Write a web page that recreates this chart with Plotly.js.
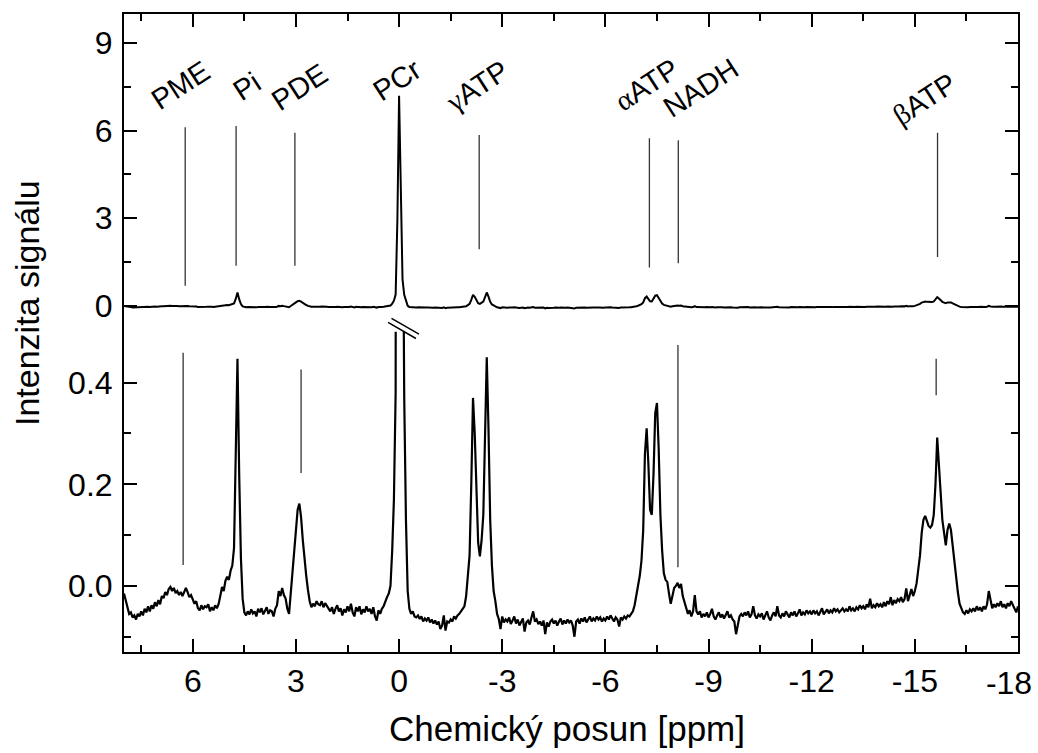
<!DOCTYPE html>
<html>
<head>
<meta charset="utf-8">
<script src="https://cdn.plot.ly/plotly-3.0.1.min.js"></script>
<style>
html,body{margin:0;padding:0;background:#fff;}
#chart{width:1038px;height:753px;}
</style>
</head>
<body>
<div id="chart"></div>
<script>
// Spectrum sampled from 8 ppm down to -18 ppm in steps of 0.05 ppm
const ppmStart = 8;
const ppmStep = -0.05;
const intensity = [
// 8.00 .. 7.05
-0.015,-0.03,-0.045,-0.055,-0.052,-0.062,-0.058,-0.066,-0.055,-0.06,-0.05,-0.058,-0.045,-0.052,-0.04,-0.05,-0.038,-0.045,-0.032,-0.04,
// 7.00 .. 6.05
-0.028,-0.036,-0.02,-0.024,-0.012,-0.018,-0.006,-0.002,-0.01,-0.004,-0.014,-0.01,-0.018,-0.012,-0.02,-0.01,-0.004,-0.012,-0.022,-0.018,
// 6.00 .. 5.05
-0.028,-0.035,-0.03,-0.044,-0.048,-0.038,-0.046,-0.04,-0.042,-0.036,-0.05,-0.042,-0.048,-0.038,-0.044,-0.036,-0.02,-0.002,-0.01,0.01,
// 5.00 .. 4.05
0.018,0.012,0.03,0.04,0.075,0.23,0.447,0.22,0.055,-0.025,-0.052,-0.058,-0.05,-0.056,-0.046,-0.054,-0.05,-0.06,-0.045,-0.052,
// 4.00 .. 3.05
-0.044,-0.056,-0.05,-0.042,-0.055,-0.048,-0.05,-0.06,-0.045,-0.038,-0.01,-0.02,-0.004,-0.018,-0.025,-0.045,-0.055,-0.012,0.02,0.055,
// 3.00 .. 2.05
0.11,0.15,0.162,0.135,0.09,0.05,0.02,-0.008,-0.03,-0.042,-0.035,-0.04,-0.03,-0.036,-0.038,-0.03,-0.042,-0.034,-0.04,-0.046,
// 2.00 .. 1.05
-0.05,-0.042,-0.055,-0.045,-0.038,-0.05,-0.044,-0.058,-0.046,-0.052,-0.04,-0.05,-0.035,-0.052,-0.06,-0.042,-0.05,-0.04,-0.056,-0.046,
// 1.00 .. 0.05
-0.052,-0.04,-0.05,-0.045,-0.055,-0.042,-0.06,-0.068,-0.048,-0.055,-0.045,-0.04,-0.03,-0.022,-0.015,0.0,0.07,0.17,0.38,2.9,
// 0.00 .. -0.95
7.2,3.3,0.9,0.37,0.13,-0.01,-0.045,-0.055,-0.05,-0.06,-0.062,-0.058,-0.065,-0.06,-0.07,-0.064,-0.068,-0.062,-0.072,-0.066,
// -1.00 .. -1.95
-0.074,-0.068,-0.076,-0.07,-0.085,-0.078,-0.058,-0.088,-0.07,-0.072,-0.066,-0.07,-0.06,-0.064,-0.058,-0.055,-0.05,-0.046,-0.04,-0.02,
// -2.00 .. -2.95
0.015,0.06,0.2,0.37,0.30,0.18,0.085,0.058,0.09,0.14,0.29,0.45,0.31,0.13,0.04,-0.01,-0.03,-0.055,-0.065,-0.085,
// -3.00 .. -3.95
-0.06,-0.072,-0.066,-0.07,-0.062,-0.075,-0.068,-0.06,-0.074,-0.066,-0.078,-0.07,-0.064,-0.09,-0.072,-0.068,-0.076,-0.062,-0.05,-0.07,
// -4.00 .. -4.95
-0.066,-0.075,-0.07,-0.078,-0.068,-0.095,-0.072,-0.08,-0.07,-0.066,-0.074,-0.068,-0.078,-0.07,-0.064,-0.076,-0.068,-0.074,-0.066,-0.072,
// -5.00 .. -5.95
-0.068,-0.078,-0.1,-0.07,-0.066,-0.074,-0.064,-0.07,-0.062,-0.072,-0.066,-0.06,-0.07,-0.064,-0.068,-0.06,-0.066,-0.062,-0.07,-0.064,
// -6.00 .. -6.95
-0.068,-0.06,-0.066,-0.058,-0.064,-0.07,-0.062,-0.066,-0.08,-0.062,-0.066,-0.06,-0.064,-0.058,-0.06,-0.055,-0.05,-0.038,-0.02,-0.005,
// -7.00 .. -7.95
0.02,0.05,0.11,0.26,0.31,0.24,0.15,0.14,0.22,0.34,0.36,0.27,0.14,0.07,0.025,0.012,0.008,-0.015,-0.035,-0.02,
// -8.00 .. -8.95
-0.004,0.0,0.006,-0.004,0.004,-0.02,-0.032,-0.045,-0.055,-0.048,-0.06,-0.05,-0.018,-0.05,-0.056,-0.05,-0.062,-0.055,-0.06,-0.052,
// -9.00 .. -9.95
-0.062,-0.055,-0.045,-0.06,-0.066,-0.058,-0.052,-0.062,-0.056,-0.064,-0.058,-0.05,-0.062,-0.058,-0.066,-0.07,-0.095,-0.075,-0.06,-0.055,
// -10.00 .. -10.95
-0.06,-0.052,-0.058,-0.05,-0.062,-0.056,-0.04,-0.058,-0.064,-0.056,-0.06,-0.054,-0.066,-0.058,-0.05,-0.062,-0.068,-0.058,-0.052,-0.06,
// -11.00 .. -11.95
-0.04,-0.058,-0.062,-0.054,-0.06,-0.05,-0.056,-0.062,-0.052,-0.058,-0.05,-0.06,-0.054,-0.046,-0.058,-0.052,-0.056,-0.048,-0.054,-0.05,
// -12.00 .. -12.95
-0.056,-0.048,-0.054,-0.05,-0.058,-0.05,-0.044,-0.056,-0.05,-0.046,-0.054,-0.048,-0.052,-0.044,-0.05,-0.046,-0.052,-0.048,-0.044,-0.05,
// -13.00 .. -13.95
-0.046,-0.05,-0.04,-0.048,-0.044,-0.05,-0.042,-0.046,-0.038,-0.044,-0.04,-0.046,-0.036,-0.042,-0.025,-0.044,-0.038,-0.042,-0.034,-0.04,
// -14.00 .. -14.95
-0.036,-0.042,-0.032,-0.04,-0.03,-0.036,-0.022,-0.038,-0.028,-0.034,-0.026,-0.03,-0.022,-0.032,-0.026,-0.005,-0.03,-0.018,-0.006,-0.02,
// -15.00 .. -15.95
-0.01,0.005,0.03,0.06,0.105,0.13,0.138,0.128,0.118,0.115,0.12,0.14,0.2,0.292,0.24,0.17,0.13,0.105,0.08,0.11,
// -16.00 .. -16.95
0.123,0.11,0.08,0.05,0.01,-0.012,-0.035,-0.045,-0.052,-0.055,-0.048,-0.054,-0.046,-0.05,-0.044,-0.05,-0.04,-0.048,-0.042,-0.05,
// -17.00 .. -17.95
-0.04,-0.046,-0.036,-0.01,-0.03,-0.044,-0.036,-0.042,-0.034,-0.04,-0.03,-0.042,-0.036,-0.044,-0.034,-0.04,-0.03,-0.038,-0.044,-0.052,
// -18.00
-0.04
];

// Axis ticks (the last label, at the right edge, is drawn by a helper axis so it can be nudged inwards)
const xTickVals = [6, 3, 0, -3, -6, -9, -12, -15, -18];
const xTickText = ['6', '3', '0', '-3', '-6', '-9', '-12', '-15', ''];
const xEdgeTickVals = [-18];
const xEdgeTickText = ['-18'];
const upperTickVals = [0, 3, 6, 9];
const upperTickText = ['0', '3', '6', '9'];
const lowerTickVals = [0, 0.2, 0.4];
const lowerTickText = ['0.0', '0.2', '0.4'];

// Peak assignments
const peakNames = ['PME', 'Pi', 'PDE', 'PCr', '<span style="font-family:Liberation Serif">γ</span>ATP', '<span style="font-family:Liberation Serif">α</span>ATP', 'NADH', '<span style="font-family:Liberation Serif">β</span>ATP'];
const labelPpm = [6.35, 4.41, 2.89, 0.06, -2.28, -7.19, -8.77, -15.28];
const labelHeight = [7.57, 7.53, 7.48, 7.74, 7.53, 7.57, 7.45, 7.08];
// marker lines in the upper (full-scale) panel
const upperLinePpm  = [6.22, 4.74, 3.03, null, -2.33, -7.28, -8.12, -15.66];
const upperLineFrom = [0.68, 1.37, 1.37, null, 1.93, 1.31, 1.45, 1.67];
const upperLineTo   = [6.12, 6.16, 5.93, null, 5.85, 5.74, 5.67, 5.93];
// marker lines in the lower (expanded) panel
const lowerLinePpm  = [6.28, null, 2.85, null, null, null, -8.11, -15.62];
const lowerLineFrom = [0.041, null, 0.222, null, null, null, 0.037, 0.375];
const lowerLineTo   = [0.459, null, 0.426, null, null, null, 0.474, 0.447];

function segments(ppm, from, to) {
  const xs = [], ys = [];
  ppm.forEach((p, i) => {
    if (p === null) return;
    xs.push(p, p, null);
    ys.push(from[i], to[i], null);
  });
  return {xs, ys};
}

const up = segments(upperLinePpm, upperLineFrom, upperLineTo);
const lo = segments(lowerLinePpm, lowerLineFrom, lowerLineTo);

const FONT = 'Liberation Sans, Arial, Helvetica, sans-serif';

const traces = [
  {type: 'scatter', mode: 'lines', x0: ppmStart, dx: ppmStep, y: intensity,
   xaxis: 'x', yaxis: 'y', line: {color: 'black', width: 2.2}, hoverinfo: 'skip'},
  {type: 'scatter', mode: 'lines', x0: ppmStart, dx: ppmStep, y: intensity,
   xaxis: 'x2', yaxis: 'y2', line: {color: 'black', width: 2}, hoverinfo: 'skip'},
  {type: 'scatter', mode: 'lines', x: up.xs, y: up.ys, xaxis: 'x2', yaxis: 'y2',
   line: {color: '#333', width: 1.3}, hoverinfo: 'skip', connectgaps: false},
  {type: 'scatter', mode: 'lines', x: lo.xs, y: lo.ys, xaxis: 'x3', yaxis: 'y',
   line: {color: '#333', width: 1.3}, hoverinfo: 'skip', connectgaps: false}
];

const axisCommon = {
  showline: true, linecolor: 'black', linewidth: 2,
  ticks: 'inside', ticklen: 13, tickwidth: 2, tickcolor: 'black',
  showgrid: false, zeroline: false,
  tickfont: {family: FONT, size: 32, color: 'black'}
};

const split = 0.5018;

const annotations = peakNames.map((n, i) => ({
  text: n, x: labelPpm[i], y: labelHeight[i], xref: 'x2', yref: 'y2',
  showarrow: false, textangle: -33, xanchor: 'center', yanchor: 'middle',
  font: {family: FONT, size: 29, color: 'black'}
}));
annotations.push({
  text: 'Intenzita signálu', xref: 'paper', yref: 'paper', x: -0.1085, y: 0.547,
  showarrow: false, textangle: -90, xanchor: 'center', yanchor: 'middle',
  font: {family: FONT, size: 34, color: 'black'}
});
annotations.push({
  text: 'Chemický posun [ppm]', xref: 'paper', yref: 'paper', x: 0.496, y: -0.12,
  showarrow: false, xanchor: 'center', yanchor: 'middle',
  font: {family: FONT, size: 35, color: 'black'}
});

const minorX = {tick0: 0, dtick: 1.5, ticks: 'inside', ticklen: 7, tickwidth: 2, tickcolor: 'black'};

const layout = {
  width: 1038, height: 753,
  margin: {l: 124, r: 20, t: 14, b: 101},
  paper_bgcolor: 'white', plot_bgcolor: 'white',
  showlegend: false,
  font: {family: FONT, color: 'black'},
  xaxis: Object.assign({}, axisCommon, {
    domain: [0, 1], anchor: 'y', range: [8, -18], autorange: false,
    tickmode: 'array', tickvals: xTickVals, ticktext: xTickText,
    minor: minorX
  }),
  xaxis3: {
    domain: [0, 1], anchor: 'y', overlaying: 'x', matches: 'x', side: 'bottom',
    range: [8, -18], autorange: false,
    showline: false, showgrid: false, zeroline: false, ticks: '',
    tickmode: 'array', tickvals: xEdgeTickVals, ticktext: xEdgeTickText,
    ticklabelshift: 9, ticklabelstandoff: 9, ticklabeloverflow: 'allow',
    tickfont: {family: FONT, size: 32, color: 'black'}
  },
  xaxis2: Object.assign({}, axisCommon, {
    domain: [0, 1], anchor: 'y2', range: [8, -18], autorange: false, matches: 'x',
    side: 'top', showticklabels: false,
    tickmode: 'array', tickvals: xTickVals, ticktext: xTickText,
    minor: minorX
  }),
  yaxis: Object.assign({}, axisCommon, {
    domain: [0, split], anchor: 'x', range: [-0.13, 0.5], autorange: false,
    tickmode: 'array', tickvals: lowerTickVals, ticktext: lowerTickText, mirror: 'ticks',
    ticklabelstandoff: 3,
    minor: {tick0: 0, dtick: 0.1, ticks: 'inside', ticklen: 7, tickwidth: 2, tickcolor: 'black'}
  }),
  yaxis2: Object.assign({}, axisCommon, {
    domain: [split, 1], anchor: 'x2', range: [-0.9, 10], autorange: false,
    tickmode: 'array', tickvals: upperTickVals, ticktext: upperTickText, mirror: 'ticks',
    ticklabelstandoff: 3,
    minor: {tick0: 0, dtick: 1.5, ticks: 'inside', ticklen: 7, tickwidth: 2, tickcolor: 'black'}
  }),
  annotations: annotations,
  shapes: [
    {type: 'line', xref: 'x', yref: 'paper', x0: 0.22, y0: 0.5228, x1: -0.58, y1: 0.4982,
     line: {color: 'black', width: 1.5}},
    {type: 'line', xref: 'x', yref: 'paper', x0: 0.32, y0: 0.5165, x1: -0.49, y1: 0.4914,
     line: {color: 'black', width: 1.5}}
  ]
};

Plotly.newPlot('chart', traces, layout, {staticPlot: true, displayModeBar: false});
</script>
</body>
</html>
